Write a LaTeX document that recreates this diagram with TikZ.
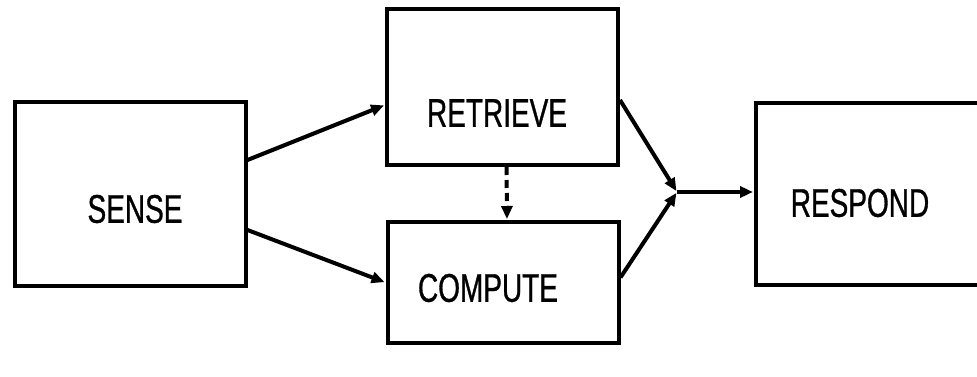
\documentclass[tikz,border=0pt]{standalone}
\usepackage{fontspec}
\newfontfamily\condfont[FakeStretch=0.70,FakeBold=0.8]{Liberation Sans}
\usetikzlibrary{arrows.meta,calc}
\tikzset{
  blockbox/.style={draw=black, line width=4pt, rectangle, inner sep=0pt},
  blocklabel/.style={font=\condfont\fontsize{40}{44}\selectfont, inner sep=0pt, anchor=center},
  flow/.style={line width=4pt, -{Triangle[length=13pt,width=11pt]}, shorten >=1pt},
  dashflow/.style={flow, dash pattern=on 8pt off 5pt}
}
\begin{document}
\begin{tikzpicture}[x=1pt,y=-1pt]
\useasboundingbox (0,0) rectangle (977,377);
\node[blockbox, minimum width=231pt, minimum height=184pt] (sense) at (130,194) {};
\node[blockbox, minimum width=231pt, minimum height=156pt] (retrieve) at (502.5,87) {};
\node[blockbox, minimum width=231pt, minimum height=121pt] (compute) at (503,282.5) {};
\node[blockbox, minimum width=260pt, minimum height=182pt] (respond) at (886,194) {};
\node[blocklabel] (tsense) at (135,209) {SENSE};
\node[blocklabel] (tretrieve) at (497,113) {RETRIEVE};
\node[blocklabel] (tcompute) at (488,288) {COMPUTE};
\node[blocklabel] (trespond) at (860,203) {RESPOND};
\coordinate (join) at (677,192);
\draw[flow] ([yshift=34pt]sense.east) -- ([yshift=-18pt]retrieve.west);
\draw[flow] ([yshift=-36pt]sense.east) -- ([yshift=0pt]compute.west);
\draw[flow] ([yshift=-13pt]retrieve.east) -- (join);
\draw[flow] ([yshift=5pt]compute.east) -- (join);
\draw[flow] (join) -- (join -| respond.west);
\draw[dashflow] ([xshift=4pt]retrieve.south) -- ([xshift=4pt]compute.north);
\end{tikzpicture}
\end{document}
